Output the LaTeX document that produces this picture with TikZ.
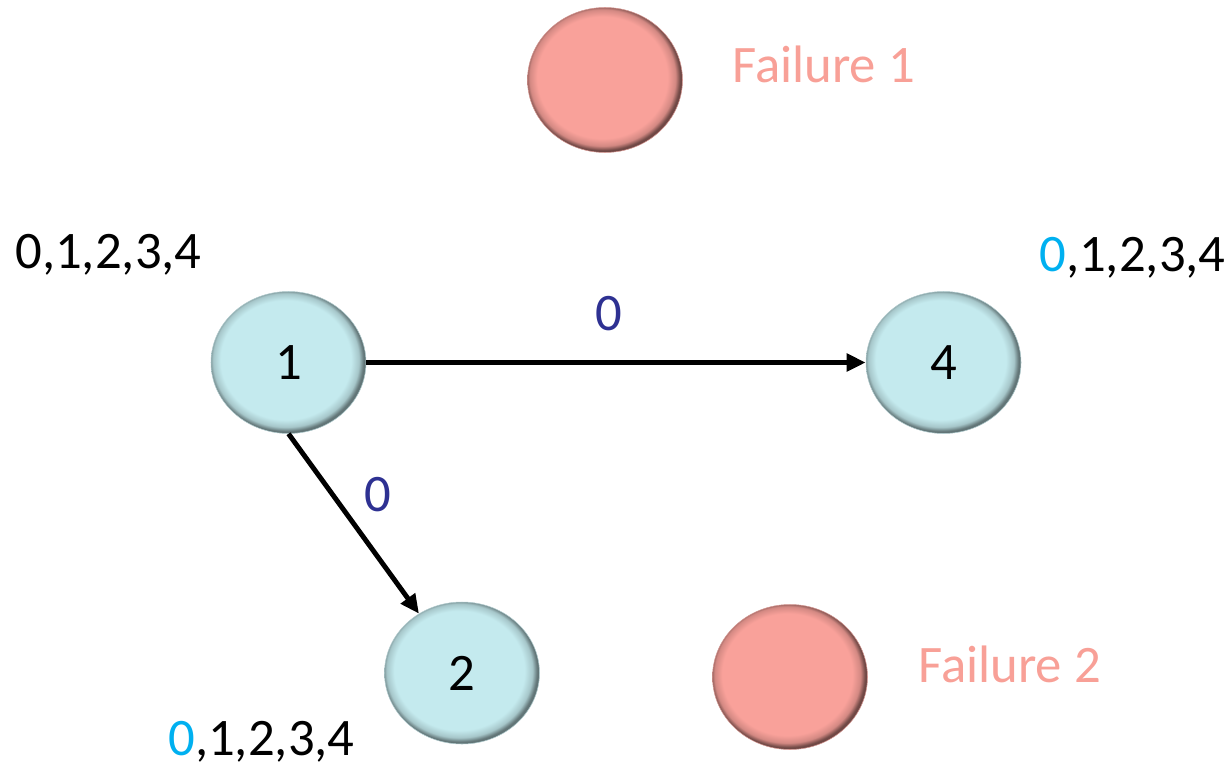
\documentclass[tikz,border=0pt]{standalone}
\usepackage{fontspec}
\setmainfont{Carlito}
\usepackage{xcolor}
\usepackage{tikz}
\usetikzlibrary{shapes.geometric,arrows.meta,positioning}
\definecolor{nodecyan}{HTML}{C4EAEE}
\definecolor{failred}{HTML}{F9A19A}
\definecolor{failtext}{HTML}{F8A097}
\definecolor{edgeblue}{HTML}{2E3192}
\definecolor{zerocyan}{HTML}{00B0F0}
\pgfdeclareradialshading{cyanbevel}{\pgfpoint{-1.5bp}{1.5bp}}{color(0bp)=(nodecyan); color(21bp)=(nodecyan); color(23.5bp)=(nodecyan!85!black); color(25bp)=(nodecyan!50!black); color(50bp)=(nodecyan!50!black)}
\pgfdeclareradialshading{redbevel}{\pgfpoint{-1.5bp}{1.5bp}}{color(0bp)=(failred); color(21bp)=(failred); color(23.5bp)=(failred!85!black); color(25bp)=(failred!45!black); color(50bp)=(failred!45!black)}

\begin{document}
\begin{tikzpicture}[
  big/.style={font=\fontsize{30}{36}\selectfont},
  proc/.style={ellipse,shading=cyanbevel,draw=nodecyan!70!gray,line width=0.3pt,minimum width=3.1cm,minimum height=2.84cm,inner sep=0pt,big},
  fail/.style={ellipse,shading=redbevel,draw=failred!70!gray,line width=0.3pt,minimum width=3.1cm,minimum height=2.9cm,inner sep=0pt},
  arr/.style={-{Triangle[length=3.8mm,width=3.4mm]},line width=2.8pt},
  elab/.style={big,text=edgeblue,anchor=base},
  vals/.style={big,anchor=base west,inner sep=0pt}
]
\useasboundingbox (0,0) rectangle (24.6,15.4);
\node[proc] (p1) at (5.77,8.15) {1};
\node[proc] (p4) at (18.87,8.15) {4};
\node[proc] (p2) at (9.24,1.94) {2};
\node[fail] (f1) at (12.1,13.8) {};
\node[fail] (f2) at (15.8,1.86) {};
\node[big,text=failtext,anchor=base west,inner sep=0pt] (f1lab) at (14.64,13.76) {Failure 1};
\node[big,text=failtext,anchor=base west,inner sep=0pt] (f2lab) at (18.36,1.76) {Failure 2};
\node[vals] (v1) at (0.3,10.04) {0,1,2,3,4};
\node[vals] (v4) at (20.78,9.98) {\textcolor{zerocyan}{0},1,2,3,4};
\node[vals] (v2) at (3.36,0.3) {\textcolor{zerocyan}{0},1,2,3,4};
\draw[arr] (p1) -- (p4);
\draw[arr] (p1.south) -- (p2);
\node[elab] (e14) at (12.18,8.8) {0};
\node[elab] (e12) at (7.56,5.18) {0};
\end{tikzpicture}
\end{document}
